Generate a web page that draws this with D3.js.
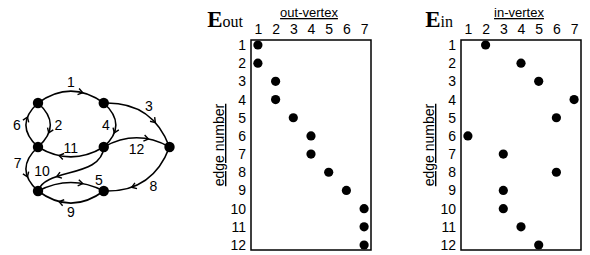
<!DOCTYPE html>
<html>
<head>
<meta charset="utf-8">
<script src="https://cdn.jsdelivr.net/npm/d3@7"></script>
<style>
  html, body { margin: 0; padding: 0; background: #fff; }
  svg { display: block; }
</style>
</head>
<body>
<svg id="chart" width="590" height="255"></svg>
<script>
// graph data: edge k goes from outVertex[k] to inVertex[k]
const vertices = [1, 2, 3, 4, 5, 6, 7];
const edgeNumbers = [1, 2, 3, 4, 5, 6, 7, 8, 9, 10, 11, 12];
const outVertex = [1, 1, 2, 2, 3, 4, 4, 5, 6, 7, 7, 7];
const inVertex = [2, 4, 5, 7, 6, 1, 3, 6, 3, 3, 4, 5];

// where each vertex sits in the little drawing (grid column / row)
const vertexCol = [0, 1, 0, 0, 2, 1, 1];
const vertexRow = [0, 0, 2, 1, 1, 2, 1];

// edge shape: bend at the start / end (fraction of length), reach of the handles
const bendStart = [0.36, 0.56, 0.36, 0.55, 0.26, 0.55, -0.55, 0.36, 0.37, 0.47, 0.3, 0.28];
const bendEnd = [0.36, 0.56, 0.36, 0.55, 0.26, 0.55, -0.55, 0.36, 0.37, -0.29, 0.3, 0.28];
const reach = [1/3, 1/3, 1/3, 1/3, 1/3, 1/3, 1/3, 1/3, 1/3, 0.24, 1/3, 1/3];
// where each edge number goes: position along the edge, distance off it
const labelAt = [0.5, 0.5, 0.5, 0.5, 0.88, 0.5, 0.4, 0.45, 0.5, 0.8, 0.5, 0.5];
const labelOffset = [9, 8, 8, -10, 8, 9, -9, 9, 9, -11, -9, -11];

const SANS = '"Liberation Sans", Arial, Helvetica, sans-serif';
const SERIF = '"Liberation Serif", "Times New Roman", serif';

const svg = d3.select('#chart');

// ---------- graph ----------
function drawGraph() {
    const gx = d3.scaleLinear().domain([0, 2]).range([38, 169.5]);
    const gy = d3.scaleLinear().domain([0, 2]).range([103, 191]);
    const pos = v => [gx(vertexCol[v - 1]), gy(vertexRow[v - 1])];

    const g = svg.append('g').attr('class', 'graph');

    const edges = edgeNumbers.map((n, i) => {
        const p0 = pos(outVertex[i]);
        const p3 = pos(inVertex[i]);
        const dx = p3[0] - p0[0], dy = p3[1] - p0[1];
        const len = Math.hypot(dx, dy);
        const ux = dx / len, uy = dy / len;
        const nx = uy, ny = -ux;
        const p1 = [
            p0[0] + len * (reach[i] * ux + 2 / 3 * bendStart[i] * nx),
            p0[1] + len * (reach[i] * uy + 2 / 3 * bendStart[i] * ny)
        ];
        const p2 = [
            p3[0] + len * (-reach[i] * ux + 2 / 3 * bendEnd[i] * nx),
            p3[1] + len * (-reach[i] * uy + 2 / 3 * bendEnd[i] * ny)
        ];
        return { n, i, pts: [p0, p1, p2, p3] };
    });

    const at = (e, t) => {
        const s = 1 - t;
        const w = [s * s * s, 3 * s * s * t, 3 * s * t * t, t * t * t];
        return [0, 1].map(k => d3.sum(e.pts, (p, j) => w[j] * p[k]));
    };
    const dir = (e, t) => {
        const s = 1 - t, P = e.pts;
        const v = [0, 1].map(k =>
            s * s * (P[1][k] - P[0][k]) + 2 * s * t * (P[2][k] - P[1][k]) + t * t * (P[3][k] - P[2][k]));
        const l = Math.hypot(v[0], v[1]);
        return [v[0] / l, v[1] / l];
    };

    g.selectAll('path.edge')
        .data(edges)
        .enter()
        .append('path')
        .attr('class', 'edge')
        .attr('d', e => {
            const [a, b, c, d] = e.pts;
            const p = d3.path();
            p.moveTo(a[0], a[1]);
            p.bezierCurveTo(b[0], b[1], c[0], c[1], d[0], d[1]);
            return p.toString();
        })
        .attr('fill', 'none')
        .attr('stroke', '#000')
        .attr('stroke-width', 1.6);

    // open arrow heads along each edge
    g.selectAll('path.arrow')
        .data(edges)
        .enter()
        .append('path')
        .attr('class', 'arrow')
        .attr('d', e => {
            const tip = at(e, 0.68);
            const u = dir(e, 0.68);
            const L = 5.5, a = 0.6;
            const cs = Math.cos(a), sn = Math.sin(a);
            const b1 = [tip[0] - L * (u[0] * cs - u[1] * sn), tip[1] - L * (u[0] * sn + u[1] * cs)];
            const b2 = [tip[0] - L * (u[0] * cs + u[1] * sn), tip[1] - L * (-u[0] * sn + u[1] * cs)];
            const p = d3.path();
            p.moveTo(b1[0], b1[1]);
            p.lineTo(tip[0], tip[1]);
            p.lineTo(b2[0], b2[1]);
            return p.toString();
        })
        .attr('fill', 'none')
        .attr('stroke', '#000')
        .attr('stroke-width', 1.4);

    g.selectAll('text.elabel')
        .data(edges)
        .enter()
        .append('text')
        .attr('class', 'elabel')
        .attr('x', e => at(e, labelAt[e.i])[0] + dir(e, labelAt[e.i])[1] * labelOffset[e.i])
        .attr('y', e => at(e, labelAt[e.i])[1] - dir(e, labelAt[e.i])[0] * labelOffset[e.i])
        .attr('dy', '0.35em')
        .attr('text-anchor', 'middle')
        .attr('font-family', SANS)
        .attr('font-size', 14)
        .attr('fill', '#000')
        .text(e => e.n);

    g.selectAll('circle.node')
        .data(vertices)
        .enter()
        .append('circle')
        .attr('class', 'node')
        .attr('cx', v => pos(v)[0])
        .attr('cy', v => pos(v)[1])
        .attr('r', 5.2)
        .attr('fill', '#000');
}

// ---------- incidence matrices ----------
function drawMatrix(left, sub, axisTitle, column) {
    const top = 40, w = 120, h = 210;
    const x = d3.scalePoint().domain(vertices).range([left, left + w]).padding(0.39);
    const y = d3.scalePoint().domain(edgeNumbers).range([top, top + h]).padding(0.275);

    const g = svg.append('g');

    const xAxis = g.append('g')
        .attr('transform', `translate(0,${top})`)
        .call(d3.axisTop(x).tickSize(0).tickPadding(6));
    const yAxis = g.append('g')
        .attr('transform', `translate(${left},0)`)
        .call(d3.axisLeft(y).tickSize(0).tickPadding(5));
    [xAxis, yAxis].forEach(a => {
        a.select('.domain').remove();
        a.attr('font-family', SANS).attr('font-size', 14);
        a.selectAll('text').attr('fill', '#000');
    });

    g.append('rect')
        .attr('x', left)
        .attr('y', top)
        .attr('width', w)
        .attr('height', h)
        .attr('fill', 'none')
        .attr('stroke', '#000')
        .attr('stroke-width', 1.5);

    g.selectAll('circle')
        .data(edgeNumbers)
        .enter()
        .append('circle')
        .attr('cx', (n, i) => x(column[i]))
        .attr('cy', n => y(n))
        .attr('r', 4.6)
        .attr('fill', '#000');

    // column title
    g.append('text')
        .attr('x', x(4) - 2)
        .attr('y', 17)
        .attr('text-anchor', 'middle')
        .attr('font-family', SANS)
        .attr('font-size', 13)
        .attr('fill', '#000')
        .attr('text-decoration', 'underline')
        .text(axisTitle);

    // row title
    g.append('text')
        .attr('transform', `translate(${left - 27},${top + h / 2}) rotate(-90)`)
        .attr('text-anchor', 'middle')
        .attr('font-family', SANS)
        .attr('font-size', 14)
        .attr('fill', '#000')
        .attr('text-decoration', 'underline')
        .text('edge number');

    // matrix name, E with subscript
    const t = g.append('text')
        .attr('x', left - 8)
        .attr('y', 27)
        .attr('text-anchor', 'end')
        .attr('font-family', SERIF)
        .attr('fill', '#000');
    t.append('tspan').attr('font-size', 23).attr('font-weight', 'bold').text('E');
    t.append('tspan').attr('font-size', 16).text(sub);
}

drawGraph();
drawMatrix(251, 'out', 'out-vertex', outVertex);
drawMatrix(461, 'in', 'in-vertex', inVertex);
</script>
</body>
</html>
